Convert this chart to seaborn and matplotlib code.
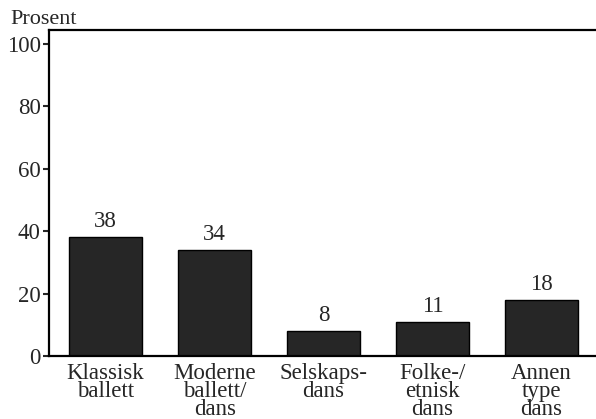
import pandas as pd
import matplotlib
matplotlib.use('Agg')
import matplotlib.pyplot as plt
import seaborn as sns

categories = ['Klassisk\nballett', 'Moderne\nballett/\ndans', 'Selskaps-\ndans',
              'Folke-/\netnisk\ndans', 'Annen\ntype\ndans']
values = [38, 34, 8, 11, 18]
yticks = [0, 20, 40, 60, 80, 100]

sns.set_style('white')
plt.rcParams['font.family'] = ['Liberation Serif', 'DejaVu Serif']

df = pd.DataFrame({'kategori': categories, 'prosent': values})

fig = plt.figure(figsize=(5.96, 4.19), dpi=100)
ax = fig.add_axes([49/596, 63/419, 547/596, 326/419])
sns.barplot(data=df, x='kategori', y='prosent', color='#262626', saturation=1,
            width=0.67, edgecolor='black', linewidth=1, ax=ax)

for i, v in enumerate(values):
    ax.text(i, v + 1.6, str(v), ha='center', va='bottom', fontsize=16.5)

ax.set_xlim(-0.52, 4.5)
ax.set_ylim(0, 104.5)
ax.set_yticks(yticks)
ax.set_xlabel('')
ax.set_ylabel('')
ax.tick_params(axis='y', labelsize=16.5, length=4, width=1.5, left=True, pad=2)
ax.tick_params(axis='x', labelsize=16.5, length=0, pad=5)
for lbl in ax.get_xticklabels():
    lbl.set_linespacing(0.8)
for s in ['left', 'top', 'bottom']:
    ax.spines[s].set_visible(True)
    ax.spines[s].set_linewidth(1.6)
    ax.spines[s].set_color('black')
ax.spines['right'].set_visible(False)

fig.text(10/596, 1 - 24/419, 'Prosent', ha='left', va='baseline', fontsize=16)

fig.savefig('out.png', dpi=100)
